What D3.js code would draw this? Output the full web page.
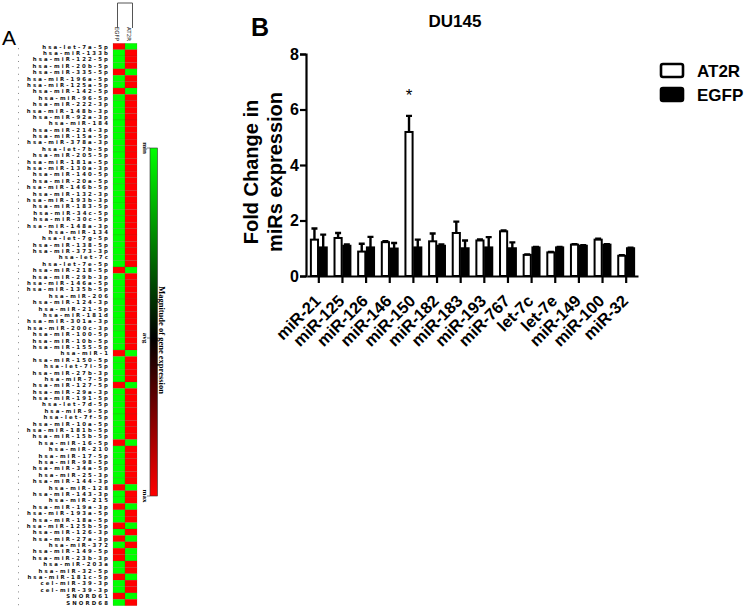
<!DOCTYPE html>
<html><head><meta charset="utf-8">
<script src="https://cdn.jsdelivr.net/npm/d3@7"></script>
<style>body{margin:0;background:#fff}svg{display:block}</style>
</head><body>
<svg id="c" width="750" height="611"></svg>
<script>
// ---------- Panel A data ----------
const rowLabels = ["hsa-let-7a-5p","hsa-miR-133b","hsa-miR-122-5p","hsa-miR-20b-5p","hsa-miR-335-5p","hsa-miR-196a-5p","hsa-miR-125a-5p","hsa-miR-142-5p","hsa-miR-96-5p","hsa-miR-222-3p","hsa-miR-148b-3p","hsa-miR-92a-3p","hsa-miR-184","hsa-miR-214-3p","hsa-miR-15a-5p","hsa-miR-378a-3p","hsa-let-7b-5p","hsa-miR-205-5p","hsa-miR-181a-5p","hsa-miR-130a-3p","hsa-miR-140-5p","hsa-miR-20a-5p","hsa-miR-146b-5p","hsa-miR-132-3p","hsa-miR-193b-3p","hsa-miR-183-5p","hsa-miR-34c-5p","hsa-miR-30c-5p","hsa-miR-148a-3p","hsa-miR-134","hsa-let-7g-5p","hsa-miR-138-5p","hsa-miR-373-3p","hsa-let-7c","hsa-let-7e-5p","hsa-miR-218-5p","hsa-miR-29b-3p","hsa-miR-146a-5p","hsa-miR-135b-5p","hsa-miR-206","hsa-miR-124-3p","hsa-miR-21-5p","hsa-miR-181d","hsa-miR-301a-3p","hsa-miR-200c-3p","hsa-miR-100-5p","hsa-miR-10b-5p","hsa-miR-155-5p","hsa-miR-1","hsa-miR-150-5p","hsa-let-7i-5p","hsa-miR-27b-3p","hsa-miR-7-5p","hsa-miR-127-5p","hsa-miR-29a-3p","hsa-miR-191-5p","hsa-let-7d-5p","hsa-miR-9-5p","hsa-let-7f-5p","hsa-miR-10a-5p","hsa-miR-181b-5p","hsa-miR-15b-5p","hsa-miR-16-5p","hsa-miR-210","hsa-miR-17-5p","hsa-miR-98-5p","hsa-miR-34a-5p","hsa-miR-25-3p","hsa-miR-144-3p","hsa-miR-128","hsa-miR-143-3p","hsa-miR-215","hsa-miR-19a-3p","hsa-miR-193a-5p","hsa-miR-18a-5p","hsa-miR-125b-5p","hsa-miR-126-3p","hsa-miR-27a-3p","hsa-miR-372","hsa-miR-149-5p","hsa-miR-23b-3p","hsa-miR-203a","hsa-miR-32-5p","hsa-miR-181c-5p","cel-miR-39-3p","cel-miR-39-3p","SNORD61","SNORD68"];
const heatColumns = ["EGFP","AT2R"];
// -1 = min (green), +1 = max (red)
const egfpLevel = [1,-1,-1,-1,1,-1,-1,1,-1,-1,-1,-1,-1,-1,-1,-1,-1,-1,-1,-1,-1,-1,-1,-1,-1,-1,-1,-1,-1,-1,-1,-1,-1,-1,-1,1,-1,-1,-1,-1,-1,-1,-1,-1,-1,-1,-1,-1,1,-1,-1,-1,-1,1,-1,-1,-1,-1,-1,-1,-1,-1,1,-1,-1,-1,-1,-1,-1,1,-1,-1,1,-1,-1,1,-1,1,-1,1,1,-1,-1,1,-1,-1,1,-1];
const at2rLevel = egfpLevel.map(v => -v);
const legendTicks = ["min","avg","max"];

// ---------- Panel B data ----------
const categories = ["miR-21","miR-125","miR-126","miR-146","miR-150","miR-182","miR-183","miR-193","miR-767","let-7c","let-7e","miR-149","miR-100","miR-32"];
const seriesNames = ["AT2R","EGFP"];
const at2rMean = [1.31,1.37,0.88,1.22,5.19,1.25,1.55,1.28,1.61,0.76,0.85,1.13,1.31,0.73];
const at2rErr  = [0.40,0.18,0.28,0.03,0.58,0.28,0.41,0.04,0.03,0.02,0.02,0.02,0.03,0.02];
const egfpMean = [1.03,1.09,1.03,0.99,1.03,1.09,1.00,1.03,1.00,1.03,1.03,1.09,1.13,1.00];
const egfpErr  = [0.46,0.05,0.38,0.20,0.28,0.05,0.28,0.37,0.21,0.02,0.02,0.02,0.02,0.02];
const yTicks = [0,2,4,6,8];

const svg = d3.select("#c");

// ================= Panel A =================
const A = svg.append("g");
A.append("text").attr("x",2).attr("y",45).attr("font-family","Liberation Sans, Arial").attr("font-size",21).text("A");

const yRow = d3.scaleBand().domain(d3.range(rowLabels.length)).range([43.3,605.7]);
const xCol = d3.scaleBand().domain(heatColumns).range([113,137]);
const heatColor = d3.scaleLinear().domain([-1,0,1]).range(["#00ff00","#000000","#ff0000"]);

const cells = [];
rowLabels.forEach((r,i)=>{
  cells.push({row:i,col:"EGFP",v:egfpLevel[i]});
  cells.push({row:i,col:"AT2R",v:at2rLevel[i]});
});
A.selectAll("rect.cell").data(cells).join("rect").attr("class","cell")
  .attr("x",d=>xCol(d.col)).attr("y",d=>yRow(d.row))
  .attr("width",xCol.bandwidth()).attr("height",yRow.bandwidth())
  .attr("fill",d=>heatColor(d.v)).attr("stroke","rgba(90,60,40,0.35)").attr("stroke-width",0.4);

A.selectAll("text.rl").data(rowLabels).join("text").attr("class","rl")
  .attr("x",110).attr("y",(d,i)=>yRow(i)+yRow.bandwidth()/2+2.1)
  .attr("text-anchor","end").attr("font-family","DejaVu Sans").attr("font-weight","bold")
  .attr("font-size",5.4).attr("letter-spacing",2.1).attr("fill","#111").text(d=>d);
A.selectAll("rect.dot").data(rowLabels).join("rect").attr("class","dot")
  .attr("x",18).attr("y",(d,i)=>yRow(i)+yRow.bandwidth()-1.5).attr("width",1).attr("height",1).attr("fill","#888");

// column labels + bracket
A.selectAll("text.cl").data(heatColumns).join("text").attr("class","cl")
  .attr("transform",d=>`translate(${xCol(d)+2},41) rotate(90)`)
  .attr("text-anchor","end").attr("font-family","DejaVu Sans").attr("font-size",5.5).attr("fill","#111").text(d=>d);
A.append("path").attr("d",`M${xCol("EGFP")+4.5},28V3H${xCol("AT2R")+7.5}V28`).attr("fill","none").attr("stroke","#555").attr("stroke-width",1);

// colour legend
const legY = d3.scaleLinear().domain([-1,0,1]).range([148,338,496]);
const defs = svg.append("defs");
const grad = defs.append("linearGradient").attr("id","hg").attr("x1",0).attr("x2",0).attr("y1",0).attr("y2",1);
[-1,0,1].forEach(v=>grad.append("stop").attr("offset",(legY(v)-148)/(496-148)).attr("stop-color",heatColor(v)));
A.append("rect").attr("x",150).attr("y",148).attr("width",7.5).attr("height",348).attr("fill","url(#hg)").attr("stroke","#333").attr("stroke-width",0.6);
A.selectAll("text.lt").data(legendTicks).join("text").attr("class","lt")
  .attr("transform",(d,i)=>`translate(143,${legY(i-1)}) rotate(90)`)
  .attr("text-anchor","middle").attr("font-family","Liberation Serif").attr("font-weight","bold").attr("font-size",7).text(d=>d);
A.selectAll("line.ltk").data(legendTicks).join("line").attr("class","ltk")
  .attr("x1",147).attr("x2",150).attr("y1",(d,i)=>legY(i-1)).attr("y2",(d,i)=>legY(i-1)).attr("stroke","#333").attr("stroke-width",0.6);
A.append("text").attr("transform","translate(159,340) rotate(90)").attr("text-anchor","middle")
  .attr("font-family","Liberation Serif").attr("font-weight","bold").attr("font-size",8.5).text("Magnitude of gene expression");

// ================= Panel B =================
const B = svg.append("g").attr("font-family","Liberation Sans, Arial").attr("font-weight","bold");
B.append("text").attr("x",251).attr("y",36).attr("font-size",25).text("B");
B.append("text").attr("x",455).attr("y",27).attr("text-anchor","middle").attr("font-size",17).text("DU145");

const x0 = d3.scaleBand().domain(categories).range([307,638]).paddingInner(0.26).paddingOuter(0.13);
const x1 = d3.scaleBand().domain(seriesNames).range([0,x0.bandwidth()]);
const y = d3.scaleLinear().domain([0,8]).range([276,54]);

// axes
const yAx = B.append("g").attr("transform","translate(306,0)")
  .call(d3.axisLeft(y).tickValues(yTicks).tickSize(6).tickFormat(d3.format("d")));
yAx.select(".domain").attr("stroke","#000").attr("stroke-width",2.2);
yAx.selectAll(".tick line").attr("stroke","#000").attr("stroke-width",2.2);
yAx.selectAll(".tick text").attr("font-size",16).attr("font-family","Liberation Sans, Arial").attr("font-weight","bold").attr("fill","#000").attr("x",-7);

const xAx = B.append("g").attr("transform","translate(0,276)")
  .call(d3.axisBottom(x0).tickSize(7).tickSizeOuter(0));
xAx.select(".domain").attr("stroke","#000").attr("stroke-width",2.2);
xAx.selectAll(".tick line").attr("stroke","#000").attr("stroke-width",2.2);
xAx.selectAll(".tick text").attr("font-size",16.5).attr("font-family","Liberation Sans, Arial").attr("font-weight","bold").attr("fill","#000")
  .attr("text-anchor","end").attr("dy",0).attr("y",0)
  .attr("transform","translate(3,26) rotate(-45)");

// bars
const barData = [];
categories.forEach((c,i)=>{
  barData.push({c,s:"AT2R",v:at2rMean[i],e:at2rErr[i]});
  barData.push({c,s:"EGFP",v:egfpMean[i],e:egfpErr[i]});
});
const bars = B.append("g");
bars.selectAll("path.err").data(barData).join("path").attr("class","err")
  .attr("d",d=>{const cx=x0(d.c)+x1(d.s)+x1.bandwidth()/2; return `M${cx},${y(d.v)}V${y(d.v+d.e)}M${cx-3},${y(d.v+d.e)}H${cx+3}`;})
  .attr("stroke","#000").attr("stroke-width",2.4).attr("fill","none");
bars.selectAll("rect.bar").data(barData).join("rect").attr("class","bar")
  .attr("x",d=>x0(d.c)+x1(d.s)+0.8).attr("width",x1.bandwidth()-1.6)
  .attr("y",d=>y(d.v)).attr("height",d=>y(0)-y(d.v))
  .attr("fill",d=>d.s==="AT2R"?"#fff":"#000").attr("stroke","#000").attr("stroke-width",2);

// significance
B.append("text").attr("x",x0("miR-150")+x1("AT2R")+x1.bandwidth()/2).attr("y",101).attr("text-anchor","middle").attr("font-weight","normal").attr("font-size",17).text("*");

// y title
B.append("text").attr("transform","translate(258,172) rotate(-90)").attr("text-anchor","middle").attr("font-size",20).text("Fold Change in");
B.append("text").attr("transform","translate(282,172) rotate(-90)").attr("text-anchor","middle").attr("font-size",20).text("miRs expression");

// legend
const lg = B.append("g");
seriesNames.forEach((s,i)=>{
  lg.append("rect").attr("x",661).attr("y",64+i*24).attr("width",22).attr("height",13).attr("rx",2)
    .attr("fill",s==="AT2R"?"#fff":"#000").attr("stroke","#000").attr("stroke-width",2.6);
  lg.append("text").attr("x",697).attr("y",77+i*24).attr("font-size",17).text(s);
});
</script>
</body></html>
